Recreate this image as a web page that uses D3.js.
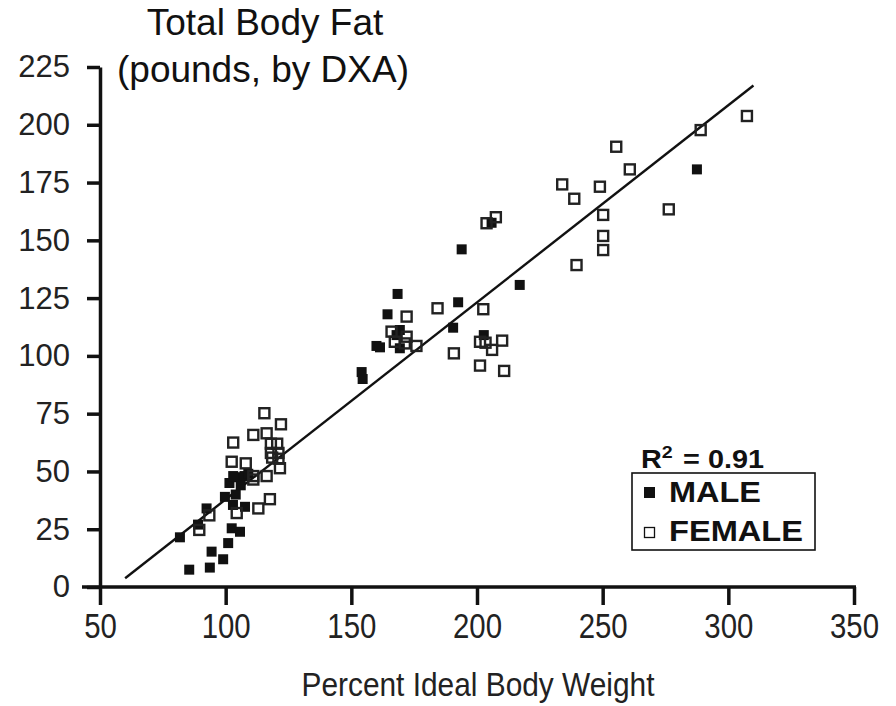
<!DOCTYPE html>
<html>
<head>
<meta charset="utf-8">
<title>Total Body Fat vs Percent Ideal Body Weight</title>
<script src="https://cdnjs.cloudflare.com/ajax/libs/d3/7.8.5/d3.min.js"></script>
<style>
  body { margin: 0; background: #fff; }
  svg { display: block; }
</style>
</head>
<body>
<div id="chart"></div>
<script>
// percent ideal body weight, pounds of fat
const maleX = [85.5, 93.7, 99, 94.4, 101, 81.8, 102.4, 105.7, 89, 92.4, 99.7, 102.9, 107.7, 104, 101.5, 104.5, 107.5, 106, 109, 103,
  154.1, 154.5, 160, 161.4, 164.4, 168.4, 169.3, 168, 169.3, 190.5, 192.5, 193.9, 202.7, 205.8, 217, 287.5];
const maleY = [7.5, 8.4, 12, 15.3, 19, 21.5, 25.4, 23.9, 27, 34, 39, 35.5, 34.7, 40, 45, 47.5, 48, 44, 49, 48,
  93, 90, 104.3, 103.7, 118, 126.8, 111.2, 109, 103.3, 112.2, 123.2, 146.1, 109, 157.6, 130.7, 180.7];

const femaleX = [89.5, 93.5, 104.4, 113, 117.6, 102.4, 108, 111, 116.3, 121.6, 103, 111, 116.3, 115.4, 122, 118, 120.5, 118, 121, 118.5, 121, 111,
  166, 172, 172, 167.3, 171.3, 175.9, 184.3, 202.5, 190.8, 201.2, 203.4, 210, 206, 201.2, 210.8, 203.8, 207.5,
  255.4, 260.8, 233.9, 238.7, 248.9, 250.2, 250.2, 250.2, 239.6, 276.3, 289, 307.4];
const femaleY = [24.7, 31, 32, 34, 38, 54.2, 53.5, 48, 48, 51.4, 62.5, 65.8, 66.5, 75.2, 70.4, 62, 62, 58, 58, 56, 55.5, 46.5,
  110.5, 117, 108.3, 106.1, 105.4, 104.3, 120.6, 120.2, 101.1, 106.1, 105.7, 106.6, 102.6, 95.8, 93.5, 157.4, 160,
  190.5, 180.7, 174.2, 168, 173.2, 161, 151.9, 145.8, 139.3, 163.4, 197.7, 203.8];

const fitX = [60, 310];
const fitY = [3.8, 217];

const xTicks = [50, 100, 150, 200, 250, 300, 350];
const yTicks = [0, 25, 50, 75, 100, 125, 150, 175, 200, 225];

const width = 896, height = 706;

const svg = d3.select('#chart').append('svg')
  .attr('width', width)
  .attr('height', height);

const x = d3.scaleLinear().domain([50, 350]).range([100, 854]);
const y = d3.scaleLinear().domain([0, 225]).range([587, 67]);

// axes
const xAxisG = svg.append('g')
  .attr('transform', `translate(0,${y(0)})`)
  .call(d3.axisBottom(x).tickValues(xTicks).tickSize(18).tickSizeOuter(0).tickPadding(7));

const yAxisG = svg.append('g')
  .attr('transform', `translate(${x(50)},0)`)
  .call(d3.axisLeft(y).tickValues(yTicks).tickSize(13).tickSizeOuter(0).tickPadding(17));

[xAxisG, yAxisG].forEach(g => {
  g.select('.domain').attr('stroke', '#111').attr('stroke-width', 3.5);
  g.selectAll('.tick line').attr('stroke', '#111').attr('stroke-width', 3.5);
});
xAxisG.select('.domain').attr('d', `M${x(50) - 18},0H${x(350) + 2}`);

// x tick labels are set in a narrow face
xAxisG.selectAll('.tick text')
  .attr('fill', '#222')
  .style('font-family', '"Liberation Sans", Arial, sans-serif')
  .style('font-size', '35px')
  .attr('dy', '0.75em')
  .attr('transform', 'scale(0.84,1)');

yAxisG.selectAll('.tick text')
  .attr('fill', '#222')
  .style('font-family', '"Liberation Sans", Arial, sans-serif')
  .style('font-size', '31px');

// axis titles
svg.append('text')
  .attr('x', 478).attr('y', 696)
  .attr('text-anchor', 'middle')
  .attr('fill', '#222')
  .attr('textLength', 353)
  .attr('lengthAdjust', 'spacingAndGlyphs')
  .style('font-family', '"Liberation Sans", Arial, sans-serif')
  .style('font-size', '34px')
  .text('Percent Ideal Body Weight');

const title = svg.append('text')
  .attr('text-anchor', 'middle')
  .attr('fill', '#111')
  .style('font-family', '"Liberation Sans", Arial, sans-serif')
  .style('font-size', '37px');
title.append('tspan').attr('x', 265).attr('y', 35).text('Total Body Fat');
title.append('tspan').attr('x', 263).attr('y', 82).text('(pounds, by DXA)');

// regression line
svg.append('path')
  .datum(d3.zip(fitX, fitY))
  .attr('fill', 'none')
  .attr('stroke', '#111')
  .attr('stroke-width', 2.4)
  .attr('d', d3.line().x(d => x(d[0])).y(d => y(d[1])));

// points
const sq = 10;
svg.append('g').selectAll('rect')
  .data(d3.zip(maleX, maleY))
  .join('rect')
  .attr('x', d => x(d[0]) - sq / 2)
  .attr('y', d => y(d[1]) - sq / 2)
  .attr('width', sq).attr('height', sq)
  .attr('fill', '#111');

svg.append('g').selectAll('rect')
  .data(d3.zip(femaleX, femaleY))
  .join('rect')
  .attr('x', d => x(d[0]) - sq / 2)
  .attr('y', d => y(d[1]) - sq / 2)
  .attr('width', sq).attr('height', sq)
  .attr('fill', 'none')
  .attr('stroke', '#222')
  .attr('stroke-width', 2.4);

// legend
const leg = svg.append('g');
leg.append('text')
  .attr('x', 641).attr('y', 468)
  .attr('fill', '#111')
  .style('font-family', '"Liberation Sans", Arial, sans-serif')
  .style('font-size', '25px')
  .style('font-weight', 'bold')
  .html('R<tspan dy="-10" font-size="17">2</tspan><tspan dy="10" dx="2"> = 0.91</tspan>')
  .attr('textLength', 123)
  .attr('lengthAdjust', 'spacingAndGlyphs');

leg.append('rect')
  .attr('x', 632).attr('y', 473)
  .attr('width', 183).attr('height', 77)
  .attr('fill', 'none')
  .attr('stroke', '#111')
  .attr('stroke-width', 1.6);

leg.append('rect')
  .attr('x', 644).attr('y', 487).attr('width', 11).attr('height', 11)
  .attr('fill', '#111');
leg.append('rect')
  .attr('x', 644.5).attr('y', 527.5).attr('width', 10).attr('height', 10)
  .attr('fill', '#fff').attr('stroke', '#111').attr('stroke-width', 1.3);

[['MALE', 502, 92], ['FEMALE', 541, 134]].forEach(([t, yy, w]) => {
  leg.append('text')
    .attr('x', 669).attr('y', yy)
    .attr('fill', '#111')
    .attr('textLength', w)
    .attr('lengthAdjust', 'spacingAndGlyphs')
    .style('font-family', '"Liberation Sans", Arial, sans-serif')
    .style('font-size', '29px')
    .style('font-weight', 'bold')
    .text(t);
});
</script>
</body>
</html>
